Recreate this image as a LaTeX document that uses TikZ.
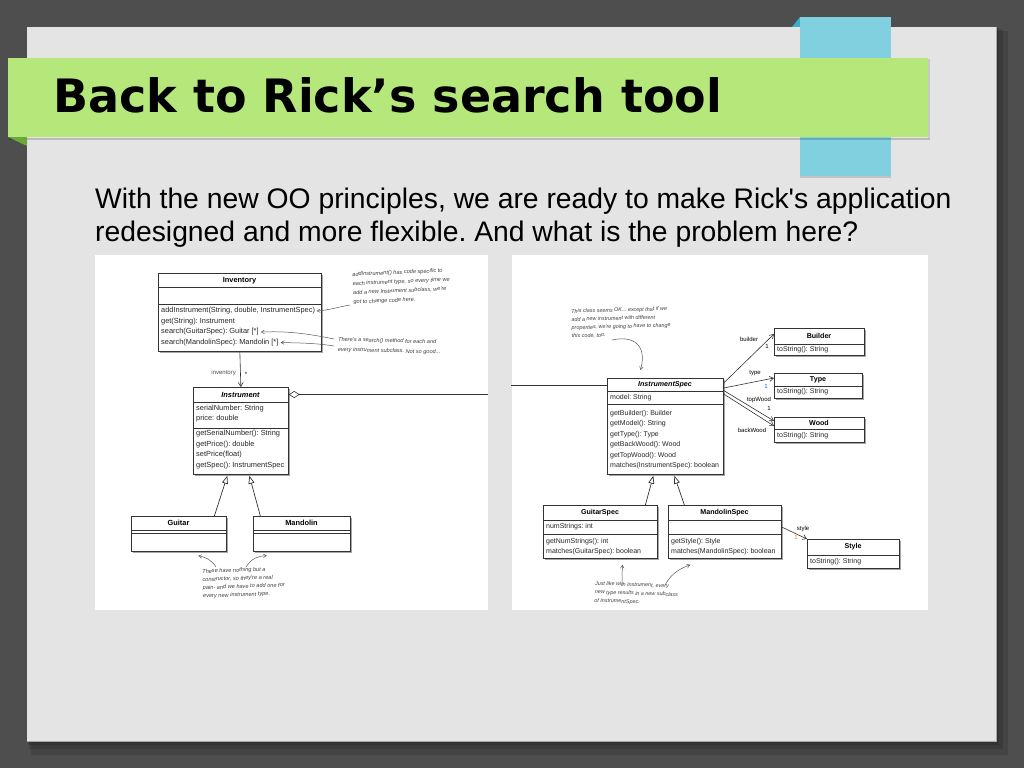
\documentclass[tikz,border=0pt]{standalone}
\usepackage{fontspec}
\setmainfont{Liberation Sans}
\newfontfamily\titlefont{DejaVu Sans}
\newfontfamily\umlf{Liberation Sans}
\usetikzlibrary{arrows.meta,shadows,calc}
\definecolor{bgdark}{HTML}{4E4E4E}
\definecolor{panel}{HTML}{E4E4E4}
\definecolor{bannergreen}{HTML}{B6E77B}
\definecolor{folddgreen}{HTML}{6BA83A}
\definecolor{tabblue}{HTML}{80D0DF}
\definecolor{foldblue}{HTML}{3AAEC6}
\frenchspacing
\begin{document}
\begin{tikzpicture}[x=1pt,y=-1pt,
  cls/.style={draw=black!80, line width=0.7pt, fill=white, inner sep=0pt, anchor=north west,
    drop shadow={shadow xshift=1.8pt, shadow yshift=-1.8pt, fill=black, opacity=0.35}},
  sepl/.style={draw=black!80, line width=0.6pt},
  ut/.style={font=\umlf\fontsize{7.4}{9}\selectfont, anchor=west, inner sep=0pt, text=black!85},
  utr/.style={font=\umlf\fontsize{7.0}{9}\selectfont, anchor=west, inner sep=0pt, text=black!85},
  un/.style={font=\umlf\bfseries\fontsize{7.4}{9}\selectfont, inner sep=0pt},
  unr/.style={font=\umlf\bfseries\fontsize{7.1}{9}\selectfont, inner sep=0pt},
  hw/.style={font=\umlf\itshape\fontsize{5.6}{8}\selectfont, text=black!75, inner sep=0pt, align=left, anchor=north west},
  assoc/.style={draw=black!80, line width=0.6pt, -{Straight Barb[length=4pt,width=5pt]}},
  gen/.style={draw=black!80, line width=0.7pt, -{Triangle[open,length=8pt,width=6pt,fill=white]}},
  note/.style={draw=black!65, line width=0.5pt, -{Straight Barb[length=3pt,width=3.5pt]}},
  lbl/.style={font=\umlf\fontsize{6}{7}\selectfont, inner sep=0pt}
]
\useasboundingbox (0,0) rectangle (1024,768);
% background
\fill[bgdark] (0,0) rectangle (1024,768);
\fill[black,opacity=0.12] (31,31) rectangle (1008,755);
\fill[black,opacity=0.12] (29,29) rectangle (1003,749);
\fill[black,opacity=0.15] (28,28) rectangle (999,745);
% panel
\fill[panel] (27,27) rectangle (996,741);
\draw[black!35, line width=0.8pt] (996,27) -- (996,741) -- (27,741);
% blue tab
\fill[foldblue] (792,27) -- (800,17) -- (800,27) -- cycle;
\fill[tabblue] (800,17) rectangle (891,176);
\fill[black,opacity=0.15] (800,176) rectangle (891,177.5);
% green banner
\fill[black,opacity=0.18] (9,138) rectangle (930,139.5);
\fill[black,opacity=0.12] (928,59) rectangle (930,138);
\fill[bannergreen] (8,58) rectangle (928,137);
\fill[folddgreen] (8,137) -- (27,137) -- (27,146) -- cycle;
\node[font=\titlefont\bfseries\fontsize{46}{50}\selectfont, anchor=base west, inner sep=0pt] (title) at (53,112) {Back to Rick’s search tool};
% body text
\node[font=\fontsize{28.3}{33}\selectfont, anchor=base west, inner sep=0pt] (body1) at (95,208) {With the new OO principles, we are ready to make Rick\textquotesingle s application};
\node[font=\fontsize{28.3}{33}\selectfont, anchor=base west, inner sep=0pt] (body2) at (95,241) {redesigned and more flexible. And what is the problem here?};
% image backgrounds
\fill[white] (95,255) rectangle (488,610);
\fill[white] (512,255) rectangle (928,610);

% ================= LEFT DIAGRAM =================
\node[cls, minimum width=163pt, minimum height=78pt] (inv) at (158,273) {};
\node[un] at (239.5,281) {Inventory};
\draw[sepl] (158,287) -- (321,287);
\draw[sepl] (158,304) -- (321,304);
\node[ut] (m1) at (161,311) {addInstrument(String, double, InstrumentSpec)};
\node[ut] (m2) at (161,321.5) {get(String): Instrument};
\node[ut] (s1) at (161,332) {search(GuitarSpec): Guitar [*]};
\node[ut] (s2) at (161,342.5) {search(MandolinSpec): Mandolin [*]};

\node[cls, minimum width=95pt, minimum height=87pt] (instr) at (193,387) {};
\node[un, font=\umlf\bfseries\itshape\fontsize{7.4}{9}\selectfont] at (240.5,394.5) {Instrument};
\draw[sepl] (193,402) -- (288,402);
\draw[sepl] (193,428) -- (288,428);
\node[ut] at (196,409) {serialNumber: String};
\node[ut] at (196,419) {price: double};
\node[ut] at (196,434) {getSerialNumber(): String};
\node[ut] at (196,444.5) {getPrice(): double};
\node[ut] at (196,455) {setPrice(float)};
\node[ut] at (196,465.5) {getSpec(): InstrumentSpec};

\node[cls, minimum width=95pt, minimum height=35pt] (guitar) at (131,516) {};
\node[un] at (178.5,523) {Guitar};
\draw[sepl] (131,530) -- (226,530);
\draw[sepl] (131,533) -- (226,533);

\node[cls, minimum width=97pt, minimum height=35pt] (mandolin) at (253,516) {};
\node[un] at (301.5,523) {Mandolin};
\draw[sepl] (253,530) -- (350,530);
\draw[sepl] (253,533) -- (350,533);

% left connectors
\draw[assoc] (inv.south) -- (instr.north);
\node[lbl, anchor=east, text=black!70] (invl) at (236,373) {inventory};
\node[lbl] (invs) at (246,374) {*};
\coordinate (lend) at (488,394.5);
\draw[draw=black!80, line width=0.6pt, {Diamond[open,length=11pt,width=7pt,fill=white]}-] (instr.east |- lend) -- (lend);
\draw[gen] ([xshift=35.5pt]guitar.north) -- ([xshift=-13.5pt,yshift=-1pt]instr.south);
\draw[gen] ([xshift=-41.5pt]mandolin.north) -- ([xshift=8.5pt,yshift=-1pt]instr.south);

% left annotations
\node[hw, rotate=2.5, font=\umlf\itshape\fontsize{5.6}{9.2}\selectfont] (a1) at (352,272) {addInstrument() has code specific to\\each instrument type, so every time we\\add a new Instrument subclass, we\textquotesingle re\\got to change code here.};
\node[hw, rotate=-1.5, font=\umlf\itshape\fontsize{5.6}{10}\selectfont] (a2) at (338,337) {There\textquotesingle s a search() method for each and\\every instrument subclass. Not so good...};
\node[hw, rotate=2, font=\umlf\itshape\fontsize{5.6}{8.2}\selectfont] (a3) at (202,569) {These have nothing but a\\constructor, so they\textquotesingle re a real\\pain- and we have to add one for\\every new instrument type.};
\coordinate (n1s) at (350,305);
\draw[note] (n1s) .. controls (338,307) and (330,310) .. ([xshift=1.5pt]m1.east);
\coordinate (n2s) at (334,339);
\draw[note] (n2s) .. controls (305,333) and (285,331) .. ([xshift=2pt]s1.east);
\coordinate (n3s) at (334,346);
\draw[note] (n3s) .. controls (315,343) and (300,343) .. ([xshift=2pt]s2.east);
\coordinate (n4s) at (216,567);
\draw[note] (n4s) .. controls (212,560) and (205,557) .. ([xshift=19.5pt,yshift=-4pt]guitar.south);
\coordinate (n5s) at (246,567);
\draw[note] (n5s) .. controls (252,558) and (258,556) .. ([xshift=-35pt,yshift=-4pt]mandolin.south);

% ================= RIGHT DIAGRAM =================
\coordinate (rstart) at (511,385);
\node[cls, minimum width=116pt, minimum height=96pt] (ispec) at (607,378) {};
\draw[draw=black!80, line width=0.6pt] (rstart) -- (ispec.west |- rstart);
\node[unr, font=\umlf\bfseries\itshape\fontsize{7.1}{9}\selectfont] at (665,384.5) {InstrumentSpec};
\draw[sepl] (607,391) -- (723,391);
\draw[sepl] (607,404) -- (723,404);
\node[utr] at (610,397.5) {model: String};
\node[utr] at (610,413.5) {getBuilder(): Builder};
\node[utr] at (610,424) {getModel(): String};
\node[utr] at (610,434.5) {getType(): Type};
\node[utr] at (610,445) {getBackWood(): Wood};
\node[utr] at (610,455.5) {getTopWood(): Wood};
\node[utr] at (610,466) {matches(InstrumentSpec): boolean};

\node[cls, minimum width=90pt, minimum height=27pt] (builder) at (774,328) {};
\node[unr] at (819,336) {Builder};
\draw[sepl] (774,344) -- (864,344);
\node[utr] at (777,350) {toString(): String};

\node[cls, minimum width=88pt, minimum height=25pt] (type) at (774,373) {};
\node[unr] at (818,380) {Type};
\draw[sepl] (774,386) -- (862,386);
\node[utr] at (777,392) {toString(): String};

\node[cls, minimum width=90pt, minimum height=25pt] (wood) at (774,417) {};
\node[unr] at (819,423) {Wood};
\draw[sepl] (774,429) -- (864,429);
\node[utr] at (777,436) {toString(): String};

\node[cls, minimum width=114pt, minimum height=53pt] (gspec) at (543,505) {};
\node[unr] at (600,512.5) {GuitarSpec};
\draw[sepl] (543,520) -- (657,520);
\draw[sepl] (543,534) -- (657,534);
\node[utr] at (546,527) {numStrings: int};
\node[utr] at (546,541.5) {getNumStrings(): int};
\node[utr] at (546,551.5) {matches(GuitarSpec): boolean};

\node[cls, minimum width=113pt, minimum height=53pt] (mspec) at (668,505) {};
\node[unr] at (724.5,512.5) {MandolinSpec};
\draw[sepl] (668,520) -- (781,520);
\draw[sepl] (668,534) -- (781,534);
\node[utr] at (671,541.5) {getStyle(): Style};
\node[utr] at (671,551.5) {matches(MandolinSpec): boolean};

\node[cls, minimum width=92pt, minimum height=29pt] (style) at (807,539) {};
\node[unr] at (853,547) {Style};
\draw[sepl] (807,555) -- (899,555);
\node[utr] at (810,561.5) {toString(): String};

% right connectors
\draw[assoc] (ispec.east |- 0,383) -- (builder.west |- 0,334);
\draw[assoc] (ispec.east |- 0,388) -- (type.west |- 0,378);
\draw[assoc] (ispec.east |- 0,390.5) -- (wood.west |- 0,421);
\draw[assoc] (ispec.east |- 0,394) -- (wood.west |- 0,426);
\draw[assoc] (mspec.east |- 0,527) -- (style.north west);
\node[lbl] (lb1) at (749,339) {builder};
\node[lbl] (lb2) at (767,346) {1};
\node[lbl] (lt1) at (755,373) {type};
\node[lbl, text=blue!60!cyan] (lt2) at (766,386) {1};
\node[lbl] (lw1) at (759,400) {topWood};
\node[lbl] (lw2) at (769,408) {1};
\node[lbl] (lw3) at (752,430) {backWood};
\node[lbl] (ls1) at (803,529) {style};
\node[lbl, text=orange] (ls2) at (796,537) {1};

\draw[gen] ([xshift=45pt]gspec.north) -- ([xshift=-12pt,yshift=-1pt]ispec.south);
\draw[gen] ([xshift=-40.5pt]mspec.north) -- ([xshift=9pt,yshift=-1pt]ispec.south);

% right annotations
\node[hw, rotate=1.5, font=\umlf\itshape\fontsize{5.4}{8.2}\selectfont] (a4) at (571,309) {This class seems OK... except that if we\\add a new instrument with different\\properties, we\textquotesingle re going to have to change\\this code, too.};
\node[hw, rotate=-2, font=\umlf\itshape\fontsize{5.4}{8.5}\selectfont] (a5) at (595,581) {Just like with Instrument, every\\new type results in a new subclass\\of InstrumentSpec.};
\coordinate (n6s) at (612,340);
\draw[note] (n6s) .. controls (640,334) and (646,352) .. ([xshift=-25pt,yshift=8pt]ispec.north);
\coordinate (n7s) at (622,585);
\draw[note] (n7s) -- ([xshift=22pt,yshift=-6pt]gspec.south);
\coordinate (n8s) at (665,585);
\draw[note] (n8s) .. controls (672,572) and (682,568) .. ([xshift=-34.5pt,yshift=-6pt]mspec.south);
\end{tikzpicture}
\end{document}
